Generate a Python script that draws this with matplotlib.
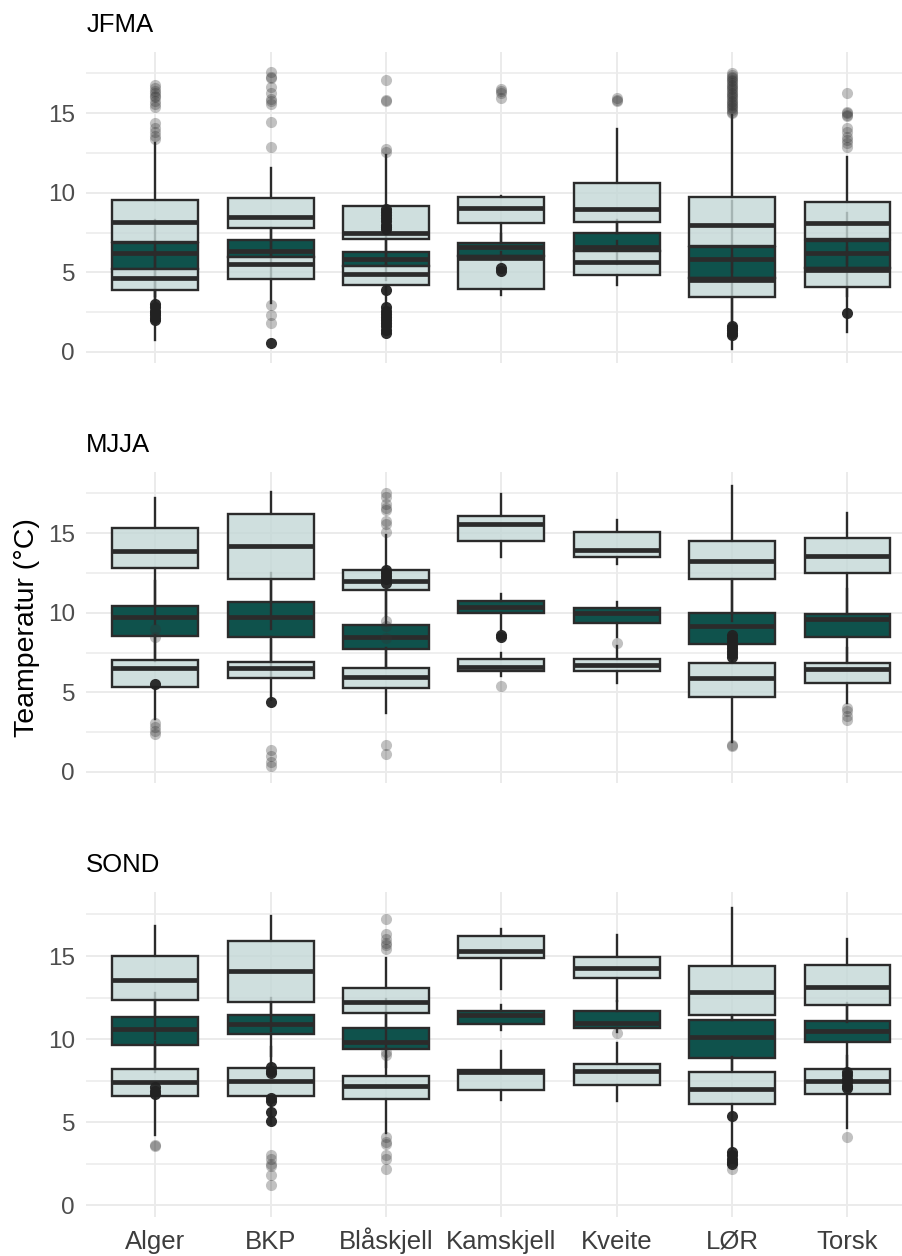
import matplotlib.pyplot as plt
from matplotlib.colors import to_rgba

plt.rcParams['font.family'] = ['Liberation Sans', 'DejaVu Sans']

locations = ['Alger', 'BKP', 'Blåskjell', 'Kamskjell', 'Kveite', 'LØR', 'Torsk']
seasons = ['JFMA', 'MJJA', 'SOND']

# each row: (whisker low, q1, median, q3, whisker high), one row per location
jfma_max = [(3.5, 6.9, 8.18, 9.54, 13.1), (6.0, 7.8, 8.45, 9.65, 11.53),
            (5.5, 7.07, 7.45, 9.17, 12.37), (7.0, 8.08, 9.02, 9.71, 9.8),
            (7.5, 8.14, 8.98, 10.59, 14.04), (5.0, 6.65, 7.97, 9.71, 14.88),
            (5.5, 7.1, 8.08, 9.44, 12.26)]
jfma_mean = [(3.1, 5.2, 6.23, 6.86, 8.3), (4.6, 5.95, 6.34, 7.03, 7.8),
             (4.5, 5.4, 5.84, 6.3, 7.6), (5.6, 6.0, 6.62, 6.86, 7.4),
             (5.5, 6.35, 6.61, 7.45, 8.3), (2.0, 4.65, 5.82, 6.6, 9.5),
             (3.5, 5.25, 6.23, 6.97, 8.7)]
jfma_min = [(0.75, 3.9, 4.66, 5.2, 6.5), (3.05, 4.58, 5.5, 5.95, 7.0),
            (1.2, 4.2, 4.88, 5.4, 6.2), (3.58, 3.95, 5.92, 6.0, 6.3),
            (4.2, 4.83, 5.67, 6.35, 7.0), (0.17, 3.47, 4.52, 4.65, 6.0),
            (1.27, 4.06, 5.15, 5.25, 6.5)]
jfma_max_out = [[16.8, 16.6, 16.4, 16.3, 16.1, 16.0, 15.8, 15.6, 15.4, 14.4, 14.1, 13.8, 13.6, 13.4],
                [17.6, 17.3, 17.2, 16.65, 16.3, 15.9, 15.8, 15.6, 14.46, 12.85],
                [17.1, 15.85, 15.75, 12.75, 12.55],
                [16.55, 16.4, 16.3, 15.95],
                [15.95, 15.85, 15.8],
                [17.5, 17.4, 17.3, 17.2, 17.1, 17.0, 16.9, 16.8, 16.7, 16.6, 16.5, 16.4, 16.3,
                 16.2, 16.1, 16.0, 15.9, 15.8, 15.7, 15.6, 15.5, 15.4, 15.3, 15.2, 15.1, 15.0],
                [16.25, 15.1, 15.0, 14.9, 14.8, 14.1, 13.8, 13.5, 13.3, 13.1, 12.9]]
jfma_mean_out = [[3.0, 2.8, 2.6, 2.45, 2.3, 2.15, 2.0],
                 [0.55],
                 [9.0, 8.8, 8.6, 8.4, 8.2, 8.0, 7.85, 7.7, 3.88, 2.8, 2.6, 2.4, 2.2, 2.0,
                  1.8, 1.6, 1.4, 1.2],
                 [5.25, 5.1],
                 [],
                 [1.65, 1.5, 1.35, 1.2, 1.05],
                 [2.43]]
jfma_min_out = [[], [2.95, 2.3, 1.84], [], [], [], [], []]

mjja_max = [(9.3, 12.83, 13.9, 15.3, 17.24), (9.0, 12.1, 14.2, 16.2, 17.6),
            (9.8, 11.42, 12.01, 12.68, 14.9), (13.48, 14.52, 15.61, 16.09, 17.45),
            (13.06, 13.52, 13.94, 15.09, 15.86), (9.5, 12.1, 13.25, 14.5, 17.95),
            (10.0, 12.53, 13.58, 14.73, 16.28)]
mjja_mean = [(7.0, 8.54, 9.71, 10.44, 12.0), (6.0, 8.5, 9.71, 10.67, 12.5),
             (6.5, 7.7, 8.5, 9.23, 11.4), (8.9, 9.96, 10.38, 10.73, 11.17),
             (8.5, 9.37, 10.0, 10.27, 10.69), (7.0, 8.04, 9.16, 10.0, 12.0),
             (7.0, 8.46, 9.59, 9.92, 11.5)]
mjja_min = [(3.3, 5.36, 6.51, 7.03, 8.6), (4.5, 5.88, 6.51, 6.93, 8.3),
            (3.68, 5.25, 5.98, 6.55, 7.8), (6.0, 6.36, 6.61, 7.07, 7.49),
            (5.57, 6.36, 6.72, 7.07, 7.9), (1.9, 4.73, 5.92, 6.82, 8.0),
            (4.31, 5.6, 6.45, 6.82, 7.8)]
mjja_max_out = [[9.0, 8.5], [], [17.55, 17.3, 16.85, 16.6, 16.45, 15.75, 15.6, 15.1, 9.5, 9.2, 8.4],
                [], [], [], []]
mjja_mean_out = [[5.5], [4.41], [12.7, 12.5, 12.3, 12.1, 11.9], [8.6, 8.5], [],
                 [8.6, 8.4, 8.2, 8.0, 7.8, 7.6, 7.4, 7.2], []]
mjja_min_out = [[3.05, 2.8, 2.6, 2.4], [1.35, 1.0, 0.65, 0.35], [1.7, 1.15], [5.42], [8.08],
                [1.7, 1.6], [4.0, 3.8, 3.5, 3.25]]

sond_max = [(10.0, 12.36, 13.57, 15.0, 16.8), (10.5, 12.24, 14.08, 15.9, 17.4),
            (9.5, 11.55, 12.26, 13.09, 14.86), (13.0, 14.88, 15.32, 16.23, 16.6),
            (12.3, 13.67, 14.26, 14.94, 16.27), (11.2, 11.45, 12.85, 14.38, 17.9),
            (11.0, 12.04, 13.11, 14.46, 16.03)]
sond_mean = [(8.0, 9.64, 10.63, 11.35, 12.8), (9.0, 10.33, 10.93, 11.47, 12.5),
             (8.3, 9.38, 9.84, 10.67, 12.4), (10.55, 10.93, 11.43, 11.68, 12.04),
             (10.45, 10.65, 10.99, 11.7, 12.3), (8.2, 8.87, 10.1, 11.13, 11.45),
             (8.3, 9.82, 10.48, 11.09, 12.2)]
sond_min = [(4.23, 6.55, 7.4, 8.23, 9.8), (4.9, 6.55, 7.5, 8.25, 9.5),
            (4.34, 6.4, 7.16, 7.76, 9.0), (6.35, 6.91, 8.0, 8.17, 9.27),
            (6.25, 7.24, 8.06, 8.53, 9.78), (3.2, 6.09, 7.02, 8.03, 8.9),
            (4.64, 6.7, 7.5, 8.21, 9.0)]
sond_max_out = [[], [], [17.24, 16.35, 16.0, 15.8, 15.65, 15.45, 9.2, 9.05], [], [10.39], [], []]
sond_mean_out = [[7.1, 6.9, 6.7], [8.35, 8.1, 7.95, 6.45, 6.3, 5.6, 5.05], [], [], [],
                 [5.38, 3.2, 3.0, 2.8, 2.6, 2.5], [8.05, 7.85, 7.6, 7.4, 7.2, 7.05]]
sond_min_out = [[3.65, 3.6], [3.05, 2.8, 2.5, 2.35, 1.85, 1.25], [4.1, 3.8, 3.7, 3.0, 2.8, 2.2],
                [], [], [2.2], [4.13]]

EDGE = '#2b2b2b'
LIGHT = to_rgba('#c4d7d6', 0.8)
DARK = '#0f524c'


def draw_layer(ax, rows, outliers, face, z, dot_color, dot_alpha):
    stats = [dict(whislo=r[0], q1=r[1], med=r[2], q3=r[3], whishi=r[4], fliers=o)
             for r, o in zip(rows, outliers)]
    art = ax.bxp(stats, positions=range(1, len(rows) + 1), widths=0.745,
                 patch_artist=True, showcaps=False, manage_ticks=False,
                 boxprops=dict(facecolor=face, edgecolor=EDGE, linewidth=1.7),
                 whiskerprops=dict(color=EDGE, linewidth=1.7),
                 medianprops=dict(color=EDGE, linewidth=3.4, solid_capstyle='butt'),
                 flierprops=dict(marker='o', markerfacecolor=dot_color, markeredgecolor='none',
                                 markersize=8, alpha=dot_alpha, linestyle='none'))
    for b in art['boxes']:
        b.set_zorder(z)
    for m in art['medians']:
        m.set_zorder(z + 0.1)
    for w in art['whiskers']:
        w.set_zorder(2.5)
    for f in art['fliers']:
        f.set_zorder(5)


fig = plt.figure(figsize=(9.02, 12.56), dpi=100)
W, H = 902, 1256
panels = [
    (jfma_max, jfma_mean, jfma_min, jfma_max_out, jfma_mean_out, jfma_min_out, 52, 363, 31.7),
    (mjja_max, mjja_mean, mjja_min, mjja_max_out, mjja_mean_out, mjja_min_out, 472, 783, 451.7),
    (sond_max, sond_mean, sond_min, sond_max_out, sond_mean_out, sond_min_out, 892, 1217, 871.7),
]
left, right = 86.2, 916.7

for i, (mx, mn, lo, mx_o, mn_o, lo_o, top, bottom, title_y) in enumerate(panels):
    ax = fig.add_axes([left / W, 1 - bottom / H, (right - left) / W, (bottom - top) / H])
    draw_layer(ax, mn, mn_o, DARK, 2, '#222222', 0.95)
    draw_layer(ax, mx, mx_o, LIGHT, 3, '#333333', 0.3)
    draw_layer(ax, lo, lo_o, LIGHT, 3, '#333333', 0.3)

    ax.set_xlim(0.4, len(locations) + 0.6)
    ax.set_ylim(-0.7, 18.85)
    ax.set_xticks(range(1, len(locations) + 1))
    ax.set_xticklabels(locations)
    ax.set_yticks([0, 5, 10, 15])
    ax.set_yticks([2.5, 7.5, 12.5, 17.5], minor=True)
    ax.set_axisbelow(True)
    ax.grid(which='major', color='#ebebeb', linewidth=1.4)
    ax.grid(which='minor', axis='y', color='#ebebeb', linewidth=1.1)
    for s in ax.spines.values():
        s.set_visible(False)
    ax.tick_params(which='both', length=0)
    ax.tick_params(axis='y', labelsize=17.5, labelcolor='#4d4d4d', pad=8)
    ax.tick_params(axis='x', labelsize=18.5, labelcolor='#3d3d3d', pad=23)
    for lab in ax.get_xticklabels():
        lab.set_verticalalignment('baseline')
    if i < 2:
        ax.tick_params(axis='x', labelbottom=False)
    fig.text(left / W, 1 - title_y / H, seasons[i], fontsize=18.5, color='black',
             ha='left', va='baseline')

fig.text(27 / W, 1 - 628 / H, 'Teamperatur (°C)', rotation=90, ha='center', va='center',
         fontsize=20.5, color='black')

fig.savefig('out.png', dpi=100)
